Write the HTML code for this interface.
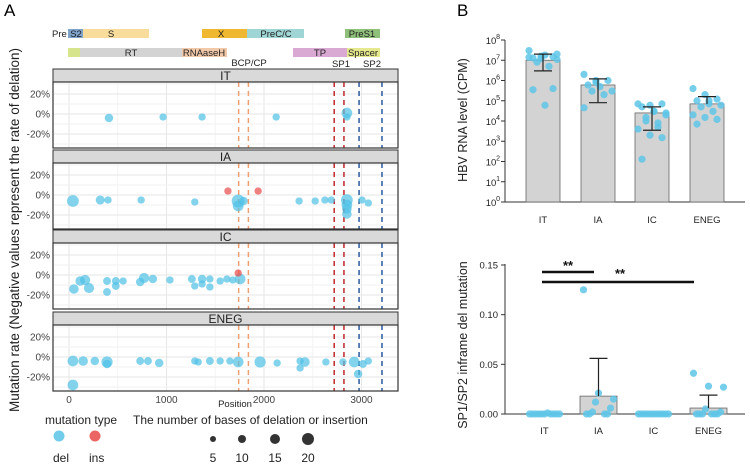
<!DOCTYPE html>
<html><head><meta charset="utf-8"><style>
body{margin:0;background:#fff;width:750px;height:466px;overflow:hidden}
svg{font-family:"Liberation Sans",sans-serif;display:block}
</style></head><body>
<svg id="fig" width="750" height="466" viewBox="0 0 750 466">
<text x="4" y="16" font-size="17">A</text>
<text x="457" y="16" font-size="17">B</text>
<g id="genes"></g>
<g id="facets"></g>
<text transform="translate(19,230) rotate(-90)" text-anchor="middle" font-size="13.5" fill="#222">Mutation rate (Negative values represent the rate of delation)</text>
<g id="legend"></g>
<g id="b1"></g>
<g id="b2"></g>
</svg>
<script>
// ---------- Panel A data ----------
const facetNames=["IT","IA","IC","ENEG"];
const xTicks=[0,1000,2000,3000];
const yTicks=[20,0,-20];
const dashPos=[1740,1840,2720,2820,2975,3210];
const dashColors=["#f0a070","#f0a070","#c0282c","#c0282c","#2a5aa0","#2a5aa0"];
// [position, rate%, bases, type]
const ptsIT=[[410,-4,8,"del"],[965,-3,6,"del"],[1365,-3,6,"del"],[2125,-3,6,"del"],[2850,1,12,"del"],[2850,-3,6,"del"]];
const ptsIA=[[40,-6,14,"del"],[320,-5,9,"del"],[400,-5,6,"del"],[740,-5,6,"del"],[1290,-7,6,"del"],[1735,-6,16,"del"],[1735,-11,12,"del"],[1790,-6,8,"del"],[1630,4,6,"ins"],[1940,4,6,"ins"],[2360,-6,6,"del"],[2525,-6,6,"del"],[2625,-5,6,"del"],[2690,-5,6,"del"],[2850,-5,14,"del"],[2850,-10,12,"del"],[2850,-14,10,"del"],[2850,-19,10,"del"],[3005,-5,6,"del"],[3070,-8,6,"del"]];
const ptsIC=[[50,-14,10,"del"],[115,-6,10,"del"],[165,-5,11,"del"],[205,-13,11,"del"],[390,-6,7,"del"],[390,-17,7,"del"],[480,-11,7,"del"],[480,-6,7,"del"],[555,-6,6,"del"],[730,-7,8,"del"],[770,-3,11,"del"],[860,-4,8,"del"],[1035,-5,6,"del"],[1260,-4,7,"del"],[1290,-11,6,"del"],[1365,-4,8,"del"],[1365,-9,6,"del"],[1445,-4,6,"del"],[1445,-12,6,"del"],[1550,-6,6,"del"],[1620,-4,6,"del"],[1680,-5,6,"del"],[1755,-4,12,"del"],[1735,2,6,"ins"]];
const ptsENEG=[[40,-4,12,"del"],[40,-28,12,"del"],[145,-4,10,"del"],[265,-4,8,"del"],[390,-5,13,"del"],[390,-7,8,"del"],[730,-4,7,"del"],[810,-4,7,"del"],[925,-6,8,"del"],[1290,-4,6,"del"],[1325,-5,6,"del"],[1445,-4,7,"del"],[1550,-4,6,"del"],[1650,-4,6,"del"],[1735,-5,12,"del"],[1960,-5,13,"del"],[2135,-6,6,"del"],[2370,-4,6,"del"],[2370,-11,6,"del"],[2420,-5,10,"del"],[2635,-5,6,"del"],[2810,-5,6,"del"],[2925,-5,12,"del"],[2965,-17,8,"del"],[3015,-7,7,"del"],[3070,-4,6,"del"]];
const facetPts=[ptsIT,ptsIA,ptsIC,ptsENEG];
// ---------- Panel B data ----------
const groups=["IT","IA","IC","ENEG"];
const rnaMeans=[1e7,6e5,2.5e4,7e4];
const rnaLow=[3e6,8e4,3.5e3,7e4];
const rnaHigh=[2e7,1.2e6,5e4,1.6e5];
const rnaIT=[3e7,1.2e7,1.5e7,1.3e7,1.8e7,1.1e7,8e6,5e6,1.4e7,1.6e7,4e5,3.5e5,6e4,2e7];
const rnaIA=[2e6,1e6,1e6,6e5,5e5,3e5,3e5,2e5,4.5e4,8e5];
const rnaIC=[7e4,6e4,7e4,5e4,3e4,2e4,1.5e4,8e3,4e3,2e3,1.5e3,1.3e2,3e4,2.5e4,1e4,5e3];
const rnaENEG=[4e5,2e5,1.2e5,1e5,7e4,6e4,5e4,3e4,2e4,1.5e4,1.2e4,7e3,1e5];
const rnaPts=[rnaIT,rnaIA,rnaIC,rnaENEG];
const logTicks=[0,1,2,3,4,5,6,7,8];
const spMeans=[0,0.018,0,0.006];
const spHigh=[0,0.056,0,0.019];
const spIT=[0,0,0,0,0,0,0,0,0,0,0.001];
const spIA=[0.125,0.021,0.015,0.012,0.006,0.002,0,0,0,0];
const spIC=[0,0,0,0,0,0,0,0,0,0,0];
const spENEG=[0.041,0.028,0.027,0.005,0.002,0,0,0,0,0,0];
const spPts=[spIT,spIA,spIC,spENEG];
const spTicks=[0,0.05,0.10,0.15];

const NS="http://www.w3.org/2000/svg";
function mk(parent,tag,attrs,text){const e=document.createElementNS(NS,tag);for(const k in attrs)e.setAttribute(k,attrs[k]);if(text!==undefined)e.textContent=text;parent.appendChild(e);return e;}

// gene map
const G=document.getElementById('genes');
const genes=[[68,29,15,"#7fa4cc","PreS2"],[83,29,66,"#f7dc9c","S"],[202,29,45,"#f0b730","X"],[247,29,57,"#9fd5d4","PreC/C"],[345,29,35,"#8fc07a","PreS1"],
[68,48,12,"#d6e48c",""],[80,48,102,"#d3d3d3","RT"],[182,48,45,"#f2c9a8","RNAaseH"],[293,48,54,"#d9a9d3","TP"],[347,48,33,"#e5e88c","Spacer"]];
genes.forEach(g=>{const r=mk(G,'rect',{x:g[0],y:g[1],width:g[2],height:9,fill:g[3]});

});
const gl=[[52,37,"Pre","start"],[76,37,"S2","middle"],[111,37,"S","middle"],[221,37,"X","middle"],[276,37,"PreC/C","middle"],[362,37,"PreS1","middle"],[131,56,"RT","middle"],[204,56,"RNAaseH","middle"],[320,56,"TP","middle"],[363,56,"Spacer","middle"],[249,66,"BCP/CP","middle"],[341,67,"SP1","middle"],[372,67,"SP2","middle"]];
gl.forEach(t=>{const e=mk(G,'text',{x:t[0],y:t[1],'font-size':9.5,'text-anchor':t[3],fill:'#222'},t[2]);

});

// facets
const F=document.getElementById('facets');
const X0=69,XS=0.0975,PL=53,PR=398;
const xA=p=>X0+p*XS;
const facetTop=[69,150,230,312];
facetPts.forEach((pts,i)=>{
 const st=facetTop[i],pt=st+13,pb=pt+66,y0=pt+32;
 const yA=v=>y0-v;
 const g=mk(F,'g',{});
 
 
 const s=mk(g,'rect',{x:PL,y:st,width:PR-PL,height:13,fill:'#d9d9d9',stroke:'#333','stroke-width':1});
 
 
 mk(g,'text',{x:(PL+PR)/2,y:st+11,'text-anchor':'middle','font-size':12,fill:'#222'},facetNames[i]);
 mk(g,'rect',{x:PL,y:pt,width:PR-PL,height:pb-pt,fill:'#fff'});
 [500,1500,2500].forEach(p=>mk(g,'line',{x1:xA(p),x2:xA(p),y1:pt,y2:pb,stroke:'#f2f2f2'}));
 xTicks.forEach(p=>mk(g,'line',{x1:xA(p),x2:xA(p),y1:pt,y2:pb,stroke:'#e6e6e6'}));
 [10,-10,-30,30].forEach(v=>mk(g,'line',{x1:PL,x2:PR,y1:yA(v),y2:yA(v),stroke:'#f2f2f2'}));
 yTicks.forEach(v=>{mk(g,'line',{x1:PL,x2:PR,y1:yA(v),y2:yA(v),stroke:'#e6e6e6'});
  const t=mk(g,'text',{x:PL-3,y:yA(v)+3.5,'text-anchor':'end','font-size':10,fill:'#444'},v+'%');
  
  });
 dashPos.forEach((p,j)=>mk(g,'line',{x1:xA(p),x2:xA(p),y1:pt,y2:pb,stroke:dashColors[j],'stroke-width':1.5,'stroke-dasharray':'5,4'}));
 pts.forEach(d=>{const c=mk(g,'circle',{cx:xA(d[0]),cy:yA(d[1]),r:2+d[2]*0.28,fill:d[3]==='del'?'#4fc0e6':'#e84a4a','fill-opacity':0.7});
  
  });
 mk(g,'rect',{x:PL,y:pt,width:PR-PL,height:pb-pt,fill:'none',stroke:'#333','stroke-width':1.2});
});
xTicks.forEach(p=>{const t=mk(F,'text',{x:xA(p),y:403,'text-anchor':'middle','font-size':10,fill:'#444'},p);
 
 });
const pl=mk(F,'text',{x:235,y:407,'text-anchor':'middle','font-size':9.5,fill:'#222'},'Position');



// legend
const L=document.getElementById('legend');
mk(L,'text',{x:45,y:424,'font-size':12,fill:'#222'},'mutation type');
mk(L,'text',{x:133,y:424,'font-size':12,fill:'#222'},'The number of bases of delation or insertion');
const ld=mk(L,'circle',{cx:59,cy:436,r:5.5,fill:'#4fc0e6','fill-opacity':0.8});


const li=mk(L,'circle',{cx:95,cy:436,r:5.5,fill:'#e84a4a','fill-opacity':0.85});


mk(L,'text',{x:53,y:462,'font-size':12,fill:'#222'},'del');
mk(L,'text',{x:89,y:462,'font-size':12,fill:'#222'},'ins');
[[213,5],[242,10],[275,15],[308,20]].forEach(s=>{const c=mk(L,'circle',{cx:s[0],cy:439,r:2+s[1]*0.2,fill:'#333'});
 
 
 mk(L,'text',{x:s[0],y:462,'text-anchor':'middle','font-size':12,fill:'#222'},s[1]);});

// B top
const B1=document.getElementById('b1');
const BX0=505,BX1=745,ly=v=>202-Math.log10(v)*20.25;
const bx=[526,581,635,690],bw=34;
mk(B1,'line',{x1:BX0,x2:BX0,y1:40,y2:202,stroke:'#333'});
mk(B1,'line',{x1:BX0,x2:BX1,y1:202,y2:202,stroke:'#333'});
logTicks.forEach(k=>{const y=202-k*20.25;mk(B1,'line',{x1:BX0-4,x2:BX0,y1:y,y2:y,stroke:'#333'});
 const t=mk(B1,'text',{x:BX0-14,y:y+4,'text-anchor':'middle','font-size':9.5,fill:'#222'},'10');
 
 
 mk(B1,'text',{x:BX0-5,y:y-1,'font-size':7,fill:'#222','text-anchor':'end'},k);});
groups.forEach((g,i)=>{
 const b=mk(B1,'rect',{x:bx[i],y:ly(rnaMeans[i]),width:bw,height:202-ly(rnaMeans[i]),fill:'#d3d3d3',stroke:'#666','stroke-width':0.8});
 
 
 const c=bx[i]+bw/2;
 rnaPts[i].forEach((v,j)=>{const d=mk(B1,'circle',{cx:c+((j*3)%8-3.5)*4,cy:ly(v),r:3.6,fill:'#5ec6e8','fill-opacity':0.85});
  
  });
 mk(B1,'line',{x1:c,x2:c,y1:ly(rnaHigh[i]),y2:ly(rnaLow[i]),stroke:'#222','stroke-width':1.2});
 mk(B1,'line',{x1:c-9,x2:c+9,y1:ly(rnaHigh[i]),y2:ly(rnaHigh[i]),stroke:'#222','stroke-width':1.2});
 if(rnaLow[i]!==rnaMeans[i])mk(B1,'line',{x1:c-9,x2:c+9,y1:ly(rnaLow[i]),y2:ly(rnaLow[i]),stroke:'#222','stroke-width':1.2});
 const t=mk(B1,'text',{x:c,y:223,'text-anchor':'middle','font-size':9.5,fill:'#222'},g);
 
 });
mk(B1,'text',{transform:'translate(467,120) rotate(-90)','text-anchor':'middle','font-size':12.5,fill:'#222'},'HBV RNA level (CPM)');

// B bottom
const B2=document.getElementById('b2');
const sy=v=>414-v/0.15*149;
mk(B2,'line',{x1:BX0,x2:BX0,y1:264,y2:414,stroke:'#333'});
mk(B2,'line',{x1:BX0,x2:BX1,y1:414,y2:414,stroke:'#333'});
spTicks.forEach(v=>{mk(B2,'line',{x1:BX0-4,x2:BX0,y1:sy(v),y2:sy(v),stroke:'#333'});
 const t=mk(B2,'text',{x:BX0-7,y:sy(v)+3.5,'text-anchor':'end','font-size':9.5,fill:'#222'},v.toFixed(2));
 
 });
const bx2=[526,580,635,690],bw2=37;
groups.forEach((g,i)=>{
 const c=bx2[i]+bw2/2;
 if(spMeans[i]>0){const b=mk(B2,'rect',{x:bx2[i],y:sy(spMeans[i]),width:bw2,height:414-sy(spMeans[i]),fill:'#d3d3d3',stroke:'#666','stroke-width':0.8});
  
  }
 spPts[i].forEach((v,j)=>{const d=mk(B2,'circle',{cx:c+((j*5)%11-5)*3,cy:sy(v),r:3.6,fill:'#5ec6e8','fill-opacity':0.85});
  
  });
 if(spHigh[i]>0){mk(B2,'line',{x1:c,x2:c,y1:sy(spHigh[i]),y2:sy(spMeans[i]),stroke:'#222','stroke-width':1.2});
  mk(B2,'line',{x1:c-9,x2:c+9,y1:sy(spHigh[i]),y2:sy(spHigh[i]),stroke:'#222','stroke-width':1.2});}
 const t=mk(B2,'text',{x:c,y:434,'text-anchor':'middle','font-size':9.5,fill:'#222'},g);
 
 });
mk(B2,'line',{x1:542,x2:594,y1:272,y2:272,stroke:'#111','stroke-width':2.5});
mk(B2,'line',{x1:542,x2:694,y1:282,y2:282,stroke:'#111','stroke-width':2.5});
mk(B2,'text',{x:568,y:270,'font-size':13,'font-weight':'bold',fill:'#111','text-anchor':'middle'},'**');
mk(B2,'text',{x:620,y:278,'font-size':13,'font-weight':'bold',fill:'#111','text-anchor':'middle'},'**');
mk(B2,'text',{transform:'translate(467,345) rotate(-90)','text-anchor':'middle','font-size':12.5,fill:'#222'},'SP1/SP2 inframe del mutation');
</script>
</body></html>
